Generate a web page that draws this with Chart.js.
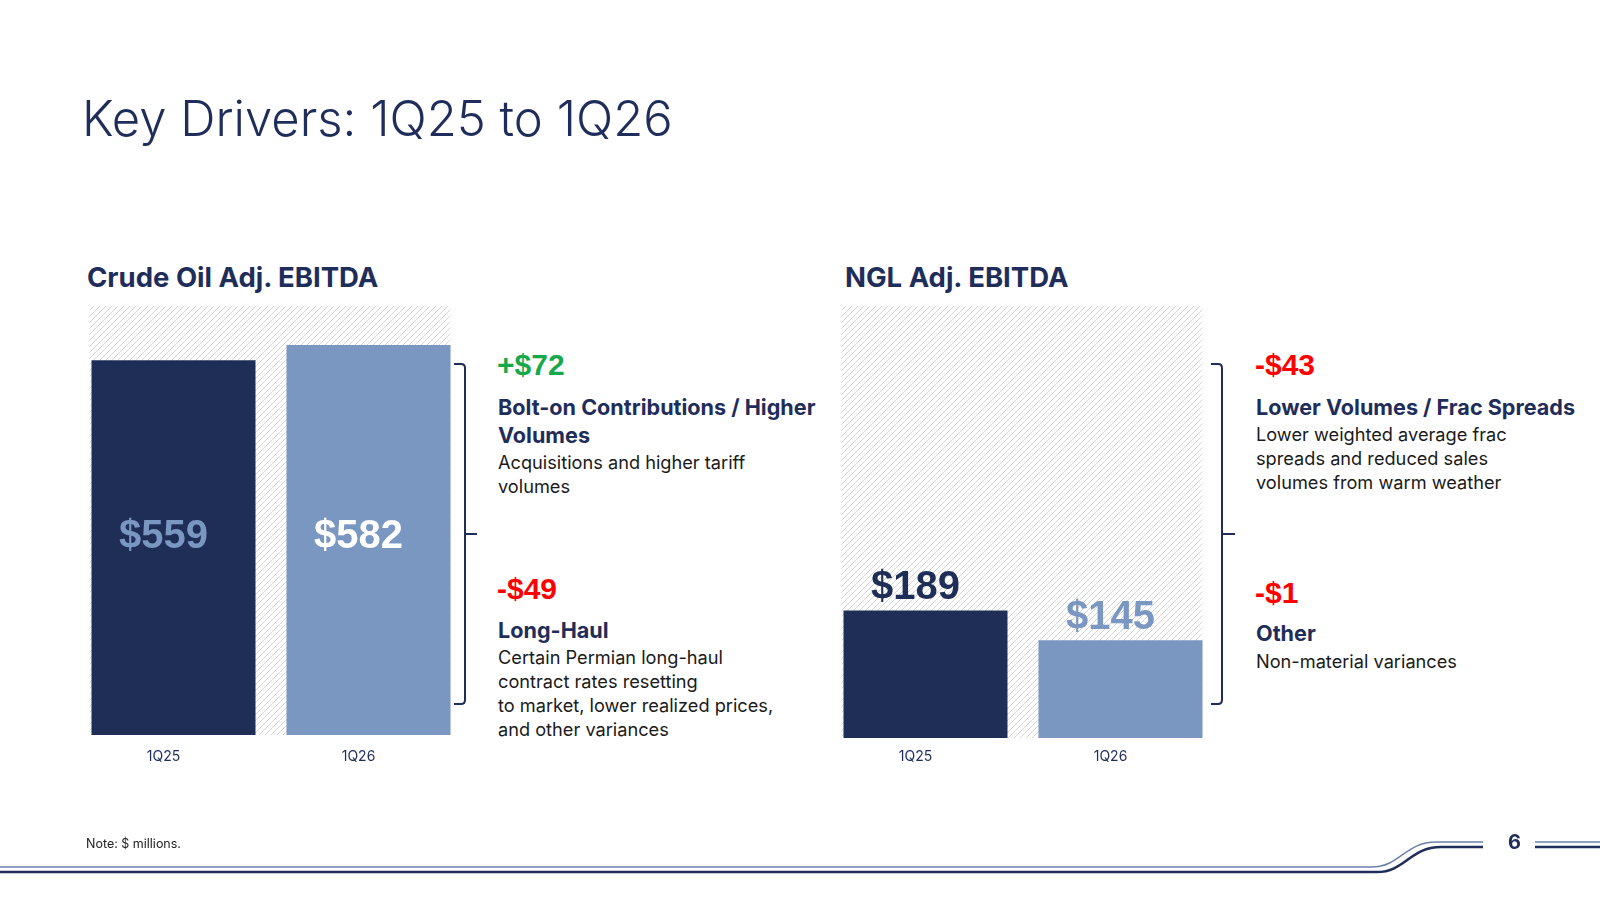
<!DOCTYPE html>
<html lang="en">
<head>
<meta charset="UTF-8">
<title>Key Drivers: 1Q25 to 1Q26</title>
<script src="https://cdn.jsdelivr.net/npm/chart.js@4.4.3/dist/chart.umd.min.js"></script>
<style>
    body {
        margin: 0;
        width: 1600px;
        height: 900px;
        background: #fff;
        font-family: Inter, Roboto, "Noto Sans", sans-serif;
        color: #1f2d5a;
        position: relative;
        overflow: hidden;
    }
    .abs { position: absolute; white-space: nowrap; }
    .title {
        left: 82px; top: 84px;
        font-weight: 300;
        font-size: 49px;
        line-height: 70px;
    }
    .section {
        font-weight: 700;
        font-size: 27.5px;
        line-height: 34px;
    }
    .delta {
        font-family: "Liberation Sans", Arial, sans-serif;
        font-weight: 700;
        font-size: 30px;
        line-height: 34px;
    }
    .up { color: #17a84b; }
    .down { color: #ff0000; }
    .head {
        font-weight: 700;
        font-size: 21.6px;
        line-height: 28px;
    }
    .body {
        font-size: 18.2px;
        line-height: 24px;
        color: #1a1a1a;
    }
    .note {
        left: 86px; top: 836px;
        font-size: 12.5px;
        line-height: 16px;
        color: #222;
    }
    .page {
        left: 1508px; top: 830px;
        font-weight: 700;
        font-size: 20px;
        line-height: 24px;
    }
    canvas { position: absolute; }
</style>
</head>
<body>
    <div class="abs title">Key Drivers: 1Q25 to 1Q26</div>

    <div class="abs section" style="left:87px; top:260px;">Crude Oil Adj. EBITDA</div>
    <div class="abs section" style="left:845px; top:260px;">NGL Adj. EBITDA</div>

    <canvas id="crudeChart" width="390" height="469" style="left:76px; top:306px;"></canvas>
    <canvas id="nglChart" width="390" height="472" style="left:828px; top:306px;"></canvas>

    <!-- crude oil drivers -->
    <div class="abs delta up" style="left:497px; top:348px;">+$72</div>
    <div class="abs head" style="left:498px; top:393px;">Bolt-on Contributions / Higher<br>Volumes</div>
    <div class="abs body" style="left:498px; top:450px;">Acquisitions and higher tariff<br>volumes</div>
    <div class="abs delta down" style="left:497px; top:572px;">-$49</div>
    <div class="abs head" style="left:498px; top:616px;">Long-Haul</div>
    <div class="abs body" style="left:498px; top:645px;">Certain Permian long-haul<br>contract rates resetting<br>to market, lower realized prices,<br>and other variances</div>

    <!-- NGL drivers -->
    <div class="abs delta down" style="left:1255px; top:348px;">-$43</div>
    <div class="abs head" style="left:1256px; top:393px;">Lower Volumes / Frac Spreads</div>
    <div class="abs body" style="left:1256px; top:422px;">Lower weighted average frac<br>spreads and reduced sales<br>volumes from warm weather</div>
    <div class="abs delta down" style="left:1255px; top:576px;">-$1</div>
    <div class="abs head" style="left:1256px; top:619px;">Other</div>
    <div class="abs body" style="left:1256px; top:649px;">Non-material variances</div>

    <svg class="abs" style="left:0; top:0;" width="1600" height="900">
        <g fill="none" stroke="#1f2d5a" stroke-width="2">
            <path d="M454 364 H461 Q465 364 465 368 V700 Q465 704 461 704 H454"/>
            <path d="M465 534 H477"/>
            <path d="M1211 364 H1218 Q1222 364 1222 368 V700 Q1222 704 1218 704 H1211"/>
            <path d="M1222 534 H1235"/>
        </g>
        <path d="M0 867 H1372 C1400 867 1405 842 1436 842 H1483" fill="none" stroke="#6b80aa" stroke-width="1.5"/>
        <path d="M0 872 H1377 C1405 872 1410 847 1441 847 H1483" fill="none" stroke="#1f2d5a" stroke-width="2.5"/>
        <path d="M1535 842 H1600" fill="none" stroke="#6b80aa" stroke-width="1.5"/>
        <path d="M1535 847 H1600" fill="none" stroke="#1f2d5a" stroke-width="2.5"/>
    </svg>

    <div class="abs page">6</div>
    <div class="abs note">Note: $ millions.</div>

<script>
    const periods = ['1Q25', '1Q26'];
    const crudeValues = [559, 582];
    const nglValues = [189, 145];
    const axisMax = 640;

    const barColors = ['#1f2e56', '#7a97c2'];
    const crudeLabelColors = ['#7a97c2', '#ffffff'];
    const nglLabelColors = ['#1f2e56', '#7a97c2'];

    function makeHatch() {
        const tile = document.createElement('canvas');
        tile.width = 6;
        tile.height = 6;
        const c = tile.getContext('2d');
        c.strokeStyle = '#d6d6d6';
        c.lineWidth = 1;
        c.beginPath();
        c.moveTo(-1, 1); c.lineTo(1, -1);
        c.moveTo(0, 6); c.lineTo(6, 0);
        c.moveTo(5, 7); c.lineTo(7, 5);
        c.stroke();
        return tile;
    }

    // light diagonal background behind the bars
    const hatchPlugin = {
        id: 'hatch',
        beforeDatasetsDraw(chart) {
            const bars = chart.getDatasetMeta(0).data;
            const first = bars[0], last = bars[bars.length - 1];
            const left = first.x - first.width / 2 - 2;
            const right = last.x + last.width / 2;
            const area = chart.chartArea;
            const ctx = chart.ctx;
            ctx.save();
            ctx.fillStyle = ctx.createPattern(makeHatch(), 'repeat');
            ctx.fillRect(left, area.top, right - left, area.bottom - area.top);
            ctx.restore();
        }
    };

    // value labels: inside the bars or above them
    const valueLabelPlugin = {
        id: 'valueLabels',
        afterDatasetsDraw(chart, args, opts) {
            const meta = chart.getDatasetMeta(0);
            const values = chart.data.datasets[0].data;
            const ctx = chart.ctx;
            const bottom = chart.chartArea.bottom;
            const minTop = Math.max(...meta.data.map(b => b.y));
            ctx.save();
            ctx.font = 'bold 40px "Liberation Sans", Arial, sans-serif';
            ctx.textAlign = 'center';
            ctx.textBaseline = 'middle';
            meta.data.forEach((bar, i) => {
                const y = opts.mode === 'inside' ? (minTop + bottom) / 2 - 11 : bar.y - 22;
                ctx.fillStyle = opts.colors[i];
                ctx.fillText('$' + values[i], bar.x - 10, y);
            });
            ctx.restore();
        }
    };

    function buildChart(id, values, labelColors, mode, tickPad) {
        return new Chart(document.getElementById(id), {
            type: 'bar',
            data: {
                labels: periods,
                datasets: [{
                    data: values,
                    backgroundColor: barColors,
                    borderWidth: 0,
                    categoryPercentage: 1,
                    barPercentage: 164 / 195
                }]
            },
            options: {
                responsive: false,
                animation: false,
                layout: { padding: 0 },
                plugins: {
                    legend: { display: false },
                    tooltip: { enabled: false },
                    valueLabels: { mode: mode, colors: labelColors }
                },
                scales: {
                    x: {
                        grid: { display: false, drawTicks: false },
                        border: { display: false },
                        ticks: {
                            color: '#1f2d5a',
                            padding: tickPad,
                            labelOffset: -10,
                            font: { family: 'Inter', size: 14 }
                        },
                        afterFit(scale) { scale.height = 40; }
                    },
                    y: {
                        display: false,
                        min: 0,
                        max: axisMax
                    }
                }
            },
            plugins: [hatchPlugin, valueLabelPlugin]
        });
    }

    buildChart('crudeChart', crudeValues, crudeLabelColors, 'inside', 13);
    buildChart('nglChart', nglValues, nglLabelColors, 'above', 10);
</script>
</body>
</html>
